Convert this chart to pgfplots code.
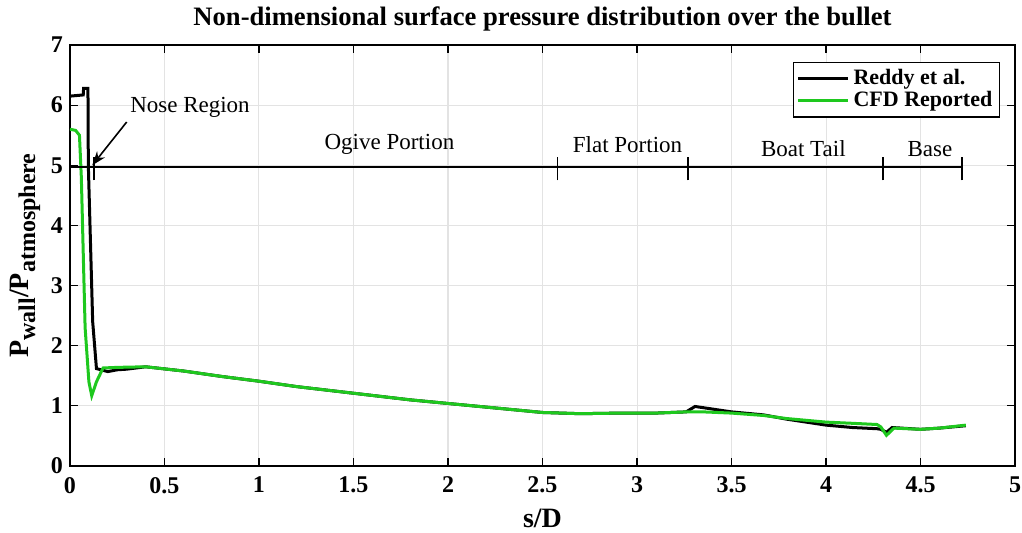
\documentclass[border=0pt]{standalone}
\usepackage{pgfplots}
\pgfplotsset{compat=1.18}
\usepackage{fontspec}
\setmainfont{Liberation Serif}
\usetikzlibrary{arrows.meta}
\definecolor{cfdgreen}{RGB}{30,200,30}
\begin{document}
\begin{tikzpicture}
\begin{axis}[
  name=ax, at={(0,0)}, anchor=south west,
  scale only axis, width=472.5pt, height=210.5pt,
  xmin=0, xmax=5, ymin=0, ymax=7,
  xtick={0,0.5,1,1.5,2,2.5,3,3.5,4,4.5,5},
  ytick={0,1,2,3,4,5,6,7},
  grid=major, grid style={gray!22, line width=0.5pt},
  tick align=inside, major tick length=4pt,
  tick style={black, line width=0.6pt},
  axis line style={line width=0.8pt},
  /pgf/number format/assume math mode=true,
  ticklabel style={font=\bfseries\fontsize{12}{14}\selectfont},
  xticklabel style={yshift=-2pt},
  title={Non-dimensional surface pressure distribution over the bullet},
  title style={at={(axis description cs:0.5,1)}, anchor=center, yshift=7pt, font=\bfseries\fontsize{13.3}{15}\selectfont},
  xlabel={s/D},
  xlabel style={at={(axis description cs:0.5,0)}, anchor=center, yshift=-26pt, font=\bfseries\fontsize{14}{16}\selectfont},
  ylabel={P\raisebox{-0.55ex}{\fontsize{12}{14}\selectfont wall}/P\raisebox{-0.55ex}{\fontsize{12}{14}\selectfont atmosphere}},
  ylabel style={at={(axis description cs:0,0.5)}, anchor=center, yshift=22.5pt, font=\bfseries\fontsize{14}{16}\selectfont},
  legend style={at={(0.984,0.96)}, anchor=north east, font=\bfseries\fontsize{11}{13}\selectfont, draw=black, line width=0.6pt, inner sep=1.5pt, row sep=-2pt},
  legend cell align=left,
  legend image code/.code={\draw[#1] (0pt,0pt) -- (25pt,0pt);},
]
\addplot[black, line width=1.5pt] coordinates {
(0,6.15) (0.07,6.17) (0.072,6.28) (0.095,6.28) (0.097,5.0) (0.12,2.4) (0.14,1.62)
(0.2,1.57) (0.25,1.6) (0.3,1.61) (0.4,1.65) (0.6,1.58) (0.8,1.49) (1.0,1.41)
(1.2,1.32) (1.5,1.21) (1.8,1.1) (2.0,1.04) (2.2,0.98) (2.5,0.89) (2.7,0.87)
(2.91,0.88) (3.1,0.88) (3.26,0.9) (3.307,0.99) (3.5,0.9) (3.67,0.85) (3.79,0.78)
(4.0,0.68) (4.14,0.64) (4.27,0.62) (4.29,0.61) (4.32,0.56) (4.35,0.64) (4.5,0.61)
(4.6,0.63) (4.74,0.67)
};
\addlegendentry{Reddy et al.}
\addplot[cfdgreen, line width=1.5pt] coordinates {
(0,5.6) (0.03,5.58) (0.05,5.5) (0.06,4.8) (0.08,2.3) (0.1,1.4) (0.115,1.17)
(0.14,1.4) (0.175,1.63) (0.25,1.64) (0.4,1.65) (0.6,1.58) (0.8,1.49) (1.0,1.41)
(1.2,1.32) (1.5,1.21) (1.8,1.1) (2.0,1.04) (2.2,0.98) (2.5,0.89) (2.7,0.87)
(2.91,0.88) (3.1,0.88) (3.26,0.9) (3.35,0.9) (3.5,0.88) (3.67,0.84) (3.79,0.79)
(4.0,0.73) (4.14,0.71) (4.27,0.69) (4.29,0.65) (4.32,0.51) (4.36,0.63) (4.5,0.61)
(4.6,0.63) (4.74,0.68)
};
\addlegendentry{CFD Reported}
% annotations
\draw[black, line width=0.8pt] (axis cs:0,4.97) -- (axis cs:4.72,4.97);
\draw[black, line width=0.8pt] (axis cs:0.127,4.75) -- (axis cs:0.127,5.13);
\draw[black, line width=0.8pt] (axis cs:2.58,4.75) -- (axis cs:2.58,5.13);
\draw[black, line width=0.8pt] (axis cs:3.27,4.75) -- (axis cs:3.27,5.13);
\draw[black, line width=0.8pt] (axis cs:4.30,4.75) -- (axis cs:4.30,5.13);
\draw[black, line width=0.8pt] (axis cs:4.72,4.75) -- (axis cs:4.72,5.13);
\draw[black, line width=0.8pt, -{Stealth[length=7pt,width=5pt]}] (axis cs:0.30,5.72) -- (axis cs:0.118,5.0);
\node[font=\fontsize{11.5}{13}\selectfont] at (axis cs:0.635,5.97) {Nose Region};
\node[font=\fontsize{11.5}{13}\selectfont] at (axis cs:1.69,5.34) {Ogive Portion};
\node[font=\fontsize{11.5}{13}\selectfont] at (axis cs:2.95,5.34) {Flat Portion};
\node[font=\fontsize{11.5}{13}\selectfont] at (axis cs:3.88,5.27) {Boat Tail};
\node[font=\fontsize{11.5}{13}\selectfont] at (axis cs:4.55,5.27) {Base};
\end{axis}
\pgfresetboundingbox
\path[use as bounding box] (-35pt,-33pt) rectangle (476pt,233pt);
\end{tikzpicture}
\end{document}
